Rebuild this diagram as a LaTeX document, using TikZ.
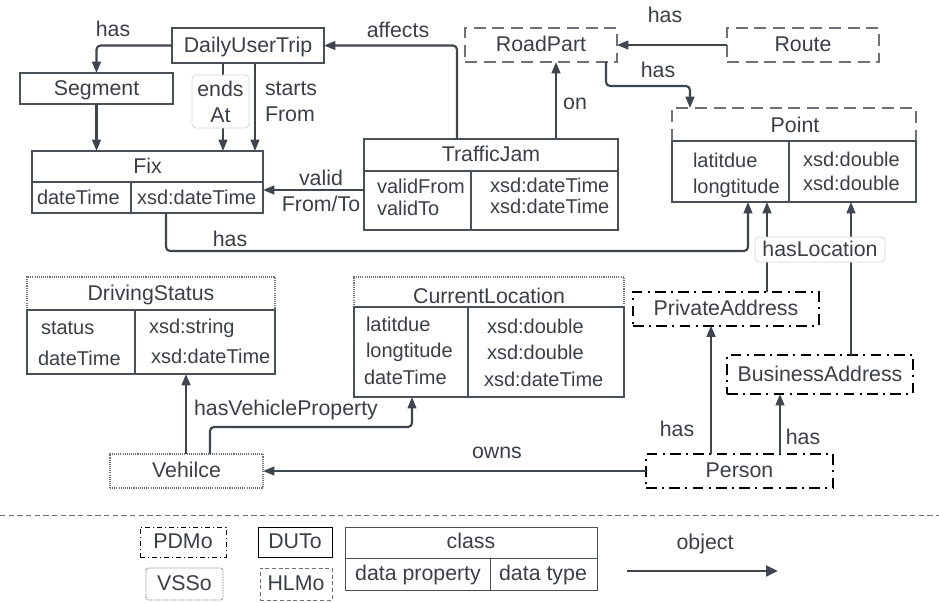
\documentclass[tikz,border=0pt]{standalone}
\usepackage{fontspec}
\setmainfont{Liberation Sans}
\usetikzlibrary{arrows.meta}
\definecolor{tcol}{HTML}{3A3F47}
\definecolor{lcol}{HTML}{3F454E}
\definecolor{bcol}{HTML}{4A5058}
\definecolor{dcol}{HTML}{6E7278}
\definecolor{lblb}{HTML}{D4D6D9}
\tikzset{
  every node/.style={text=tcol, font=\fontsize{16}{19.5}\selectfont, inner sep=0pt, outer sep=0pt},
  tx/.style={text height=10.5pt, text depth=0.5pt},
  cell/.style={tx, anchor=west, font=\fontsize{15}{18}\selectfont},
  sz/.style 2 args={minimum width=#1*0.75pt, minimum height=#2*0.75pt},
  solidbox/.style={draw=bcol, line width=1.5pt},
  dashbox/.style={draw=dcol, line width=1.5pt, dash pattern=on 9pt off 5pt},
  dashdotbox/.style={draw=black, line width=1.5pt, dash pattern=on 8pt off 4pt on 1.5pt off 4pt},
  dotbox/.style={draw=dcol, line width=0.8pt, dash pattern=on 0.8pt off 0.8pt},
  conn/.style={draw=lcol, line width=1.6pt, rounded corners=3pt, -{Triangle[length=8.5pt,width=6.5pt]}},
  lblbox/.style={draw=lblb, line width=0.6pt, fill=white, rounded corners=3pt},
  thinline/.style={draw=bcol, line width=1.5pt},
}
\begin{document}
\begin{tikzpicture}[x=0.75pt,y=-0.75pt]
\useasboundingbox (0,0) rectangle (939,603);

% ---------- classes ----------
\node[solidbox, sz={152}{35}, tx] (dut) at (248,45.5) {DailyUserTrip};
\node[solidbox, sz={153}{31}, tx] (seg) at (96.5,88.5) {Segment};
\node[solidbox, sz={231}{62}] (fix) at (147.5,182) {};
\draw[thinline] (fix.west |- 0,182) -- (fix.east |- 0,182);
\draw[thinline] (131,182) -- (fix.south -| 131,0);
\node[tx] (fixT) at (147.5,167) {Fix};
\node[cell] (fixA) at (37,198) {dateTime};
\node[cell] (fixB) at (137,198) {xsd:dateTime};

\node[solidbox, sz={254}{91}] (tj) at (491,184.5) {};
\draw[thinline] (tj.west |- 0,171) -- (tj.east |- 0,171);
\draw[thinline] (471,171) -- (tj.south -| 471,0);
\node[tx] (tjT) at (491,155) {TrafficJam};
\node[cell] (tjA1) at (377,187) {validFrom};
\node[cell] (tjA2) at (377,209) {validTo};
\node[cell] (tjB1) at (490,186) {xsd:dateTime};
\node[cell] (tjB2) at (490,207) {xsd:dateTime};

\node[dashbox, sz={152}{34}, tx] (rp) at (541,45) {RoadPart};
\node[dashbox, sz={152}{34}, tx] (route) at (803,45) {Route};

\node[sz={244}{94}] (point) at (794,155) {};
\draw[dashbox] (point.west |- 0,141) -- (point.north west) -- (point.north east) -- (point.east |- 0,141);
\draw[solidbox] (point.west |- 0,141) rectangle (point.south east);
\draw[thinline] (789,141) -- (point.south -| 789,0);
\node[tx] (pT) at (795,126) {Point};
\node[cell] (pA1) at (693,161) {latitdue};
\node[cell] (pA2) at (693,187) {longtitude};
\node[cell] (pB1) at (803,160) {xsd:double};
\node[cell] (pB2) at (803,184) {xsd:double};

\node[sz={248}{97}] (ds) at (151,325.5) {};
\draw[dotbox] (ds.west |- 0,310) -- (ds.north west) -- (ds.north east) -- (ds.east |- 0,310);
\draw[solidbox] (ds.west |- 0,310) rectangle (ds.south east);
\draw[thinline] (135,310) -- (ds.south -| 135,0);
\node[tx] (dsT) at (151,294) {DrivingStatus};
\node[cell] (dsA1) at (41,328) {status};
\node[cell] (dsA2) at (38,359) {dateTime};
\node[cell] (dsB1) at (149,327) {xsd:string};
\node[cell] (dsB2) at (151,357) {xsd:dateTime};

\node[sz={270}{120}] (cl) at (489,337) {};
\draw[dotbox] (cl.west |- 0,307) -- (cl.north west) -- (cl.north east) -- (cl.east |- 0,307);
\draw[solidbox] (cl.west |- 0,307) rectangle (cl.south east);
\draw[thinline] (468,307) -- (cl.south -| 468,0);
\node[tx] (clT) at (489,297) {CurrentLocation};
\node[cell] (clA1) at (366,325) {latitdue};
\node[cell] (clA2) at (366,351) {longtitude};
\node[cell] (clA3) at (364,378) {dateTime};
\node[cell] (clB1) at (487,327) {xsd:double};
\node[cell] (clB2) at (487,353) {xsd:double};
\node[cell] (clB3) at (484,380) {xsd:dateTime};

\node[dashdotbox, sz={186}{34}, tx] (pa) at (726,308.5) {PrivateAddress};
\node[dashdotbox, sz={186}{39}, tx] (ba) at (820,374.5) {BusinessAddress};
\node[dashdotbox, sz={187}{34}, tx] (person) at (739.5,471) {Person};
\node[dotbox, sz={153}{34}, tx] (veh) at (186.5,471) {Vehilce};

% ---------- connectors ----------
\coordinate (xEnds) at (223,0);
\coordinate (xStarts) at (255,0);
\coordinate (xAff) at (457,0);
\coordinate (yValid) at (0,190);
\coordinate (xOn) at (556,0);
\coordinate (cRP1) at (606,86);
\coordinate (cRP2) at (690,86);
\coordinate (cFx1) at (166,251);
\coordinate (cFx2) at (748,251);
\coordinate (xPA) at (767,0);
\coordinate (xBA) at (851,0);
\coordinate (xPer1) at (711,0);
\coordinate (xPer2) at (780,0);
\coordinate (xVeh1) at (186,0);
\coordinate (cV1) at (210,427);
\coordinate (cV2) at (412,427);

\draw[conn] (dut.west) -| (seg.north);
\draw[conn] (seg.south) -- (fix.north -| seg.south);
\draw[conn] (dut.south -| xEnds) -- (fix.north -| xEnds);
\draw[conn] (dut.south -| xStarts) -- (fix.north -| xStarts);
\draw[conn] (tj.north -| xAff) |- (dut.east);
\draw[conn] (tj.west |- yValid) -- (fix.east |- yValid);
\draw[conn] (tj.north -| xOn) -- (rp.south -| xOn);
\draw[conn] (route.west) -- (rp.east);
\draw[conn] (rp.south -| cRP1) -- (cRP1) -- (cRP2) -- (point.north -| cRP2);
\draw[conn] (fix.south -| cFx1) -- (cFx1) -- (cFx2) -- (point.south -| cFx2);
\draw[conn] (pa.north -| xPA) -- (point.south -| xPA);
\draw[conn] (ba.north -| xBA) -- (point.south -| xBA);
\draw[conn] (person.north -| xPer1) -- (pa.south -| xPer1);
\draw[conn] (person.north -| xPer2) -- (ba.south -| xPer2);
\draw[conn] (person.west) -- (veh.east);
\draw[conn] (veh.north -| xVeh1) -- (ds.south -| xVeh1);
\draw[conn] (veh.north -| cV1) -- (cV1) -- (cV2) -- (cl.south -| cV2);

% ---------- labels ----------
\node[tx] (lHas1) at (113,30) {has};
\node[lblbox, sz={57}{53}, align=center] (lEnds) at (220.5,101.5) {ends\\At};
\node[align=left, anchor=west] (lStarts) at (265,102) {starts\\From};
\node[tx] (lAff) at (398,31) {affects};
\node[align=center] (lValid) at (321,191) {valid\\From/To};
\node[tx] (lOn) at (575,103) {on};
\node[tx] (lHas2) at (665,16) {has};
\node[tx] (lHas3) at (658,71) {has};
\node[tx] (lHas4) at (230,240) {has};
\node[lblbox, sz={130}{25}, tx] (lLoc) at (820,249.5) {hasLocation};
\node[tx] (lHas5) at (677,430) {has};
\node[tx] (lHas6) at (803,438) {has};
\node[tx] (lOwns) at (497,452) {owns};
\node[tx] (lVP) at (286,409) {hasVehicleProperty};

% ---------- legend ----------
\draw[draw=dcol, line width=0.6pt, dash pattern=on 4pt off 2.5pt] (0,515) -- (939,515);
\node[draw=black, line width=0.75pt, dash pattern=on 4pt off 2pt on 1pt off 2pt, sz={86}{30}, tx] (lgPD) at (183,542) {PDMo};
\node[draw=black, line width=0.75pt, sz={74}{30}, tx] (lgDU) at (295,542) {DUTo};
\node[draw=dcol, line width=0.6pt, dash pattern=on 0.6pt off 0.6pt, rounded corners=2pt, sz={77}{32}, tx] (lgVS) at (184.5,584) {VSSo};
\node[draw=dcol, line width=0.6pt, dash pattern=on 3pt off 2pt, sz={72}{32}, tx] (lgHL) at (296,584) {HLMo};
\node[draw=bcol, line width=0.75pt, sz={252}{63}] (lgCl) at (471,558.5) {};
\draw[draw=bcol, line width=0.75pt] (lgCl.west |- 0,558) -- (lgCl.east |- 0,558);
\draw[draw=bcol, line width=0.75pt] (490,558) -- (lgCl.south -| 490,0);
\node[tx] (lgClT) at (471,542) {class};
\node[tx] (lgClA) at (418,574) {data property};
\node[tx] (lgClB) at (543,574) {data type};
\node[tx] (lgObj) at (705,543) {object};
\coordinate (lgA1) at (627,571);
\coordinate (lgA2) at (778,571);
\draw[draw=lcol, line width=2.2pt, -{Triangle[length=9pt,width=8pt]}] (lgA1) -- (lgA2);
\end{tikzpicture}
\end{document}
